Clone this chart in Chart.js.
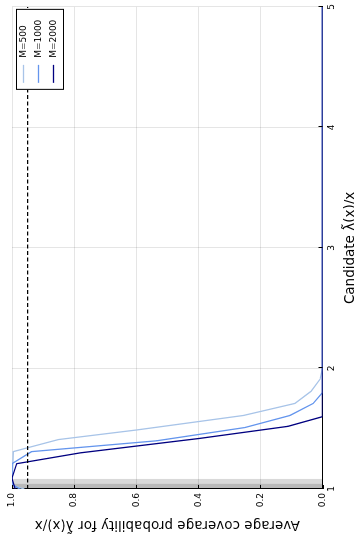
<!DOCTYPE html>
<html>
<head>
<meta charset="utf-8">
<script src="https://cdn.jsdelivr.net/npm/chart.js@4.4.1/dist/chart.umd.min.js"></script>
<style>
  html, body { margin: 0; padding: 0; background: #fff; overflow: hidden; }
  /* the plot is laid out landscape and turned a quarter to the left */
  #wrap {
    position: absolute; left: 0; top: 0;
    width: 541px; height: 354px;
    transform-origin: 0 0;
    transform: translate(0, 541px) rotate(-90deg);
  }
</style>
</head>
<body>
<div id="wrap"><canvas id="cov" width="541" height="354"></canvas></div>
<script>
const seriesNames = ['M=500', 'M=1000', 'M=2000'];
const seriesColors = ['#a8c4e8', '#6495ed', '#000080'];

// candidate ratio and average coverage, one pair of arrays per M
const lambda500 = [1.0, 1.03, 1.31, 1.34, 1.41, 1.49, 1.61, 1.71, 1.81, 1.91, 2.0, 5.0];
const cover500  = [0.96, 1.0, 0.996, 0.953, 0.851, 0.598, 0.255, 0.089, 0.037, 0.008, 0.0, 0.0];
const lambda1000 = [1.0, 1.04, 1.21, 1.31, 1.40, 1.51, 1.61, 1.71, 1.80, 5.0];
const cover1000  = [0.975, 1.0, 1.0, 0.937, 0.534, 0.25, 0.105, 0.03, 0.0, 0.0];
const lambda2000 = [1.0, 1.09, 1.21, 1.30, 1.42, 1.52, 1.60, 5.0];
const cover2000  = [0.99, 1.0, 0.985, 0.78, 0.395, 0.111, 0.0, 0.0];

const nominal = 0.95;                 // target coverage, dashed
const bandEnds = [1.085, 1.045];      // shaded strips starting at 1
const xTicks = [1, 2, 3, 4, 5];
const yTicks = [0, 0.2, 0.4, 0.6, 0.8, 1.0];

const lambdas = [lambda500, lambda1000, lambda2000];
const covers = [cover500, cover1000, cover2000];

const font = 'DejaVu Sans';
const pts = (xs, ys) => xs.map((v, i) => ({ x: v, y: ys[i] }));

const datasets = [];
bandEnds.forEach(end => {
  datasets.push({
    data: [{ x: 1, y: 1 }, { x: end, y: 1 }],
    borderWidth: 0,
    pointRadius: 0,
    backgroundColor: 'rgba(0,0,0,0.15)',
    fill: 'origin',
    order: 10
  });
});
seriesNames.forEach((name, i) => {
  datasets.push({
    label: name,
    data: pts(lambdas[i], covers[i]),
    borderColor: seriesColors[i],
    borderWidth: 1.3,
    pointRadius: 0,
    fill: false,
    order: 3 - i
  });
});
datasets.push({
  data: [{ x: 1, y: nominal }, { x: 5, y: nominal }],
  borderColor: '#000',
  borderWidth: 1.2,
  borderDash: [4, 2.5],
  pointRadius: 0,
  fill: false,
  order: 0
});

// inward tick marks and the boxed legend
const decor = {
  id: 'decor',
  afterDatasetsDraw(chart) {
    const { ctx, chartArea: a, scales: { x, y } } = chart;
    ctx.save();
    ctx.strokeStyle = '#000';
    ctx.lineWidth = 1;
    ctx.beginPath();
    xTicks.forEach(v => {
      const px = Math.round(x.getPixelForValue(v)) + 0.5;
      ctx.moveTo(px, a.bottom); ctx.lineTo(px, a.bottom - 4);
    });
    yTicks.forEach(v => {
      const py = Math.round(y.getPixelForValue(v)) + 0.5;
      ctx.moveTo(a.left, py); ctx.lineTo(a.left + 4, py);
    });
    ctx.stroke();

    const bx = a.right - 83, by = a.top + 4, bw = 80, bh = 47;
    ctx.fillStyle = '#fff';
    ctx.fillRect(bx, by, bw, bh);
    ctx.strokeRect(bx + 0.5, by + 0.5, bw, bh);
    ctx.font = '9px "' + font + '"';
    ctx.textBaseline = 'middle';
    ctx.fillStyle = '#000';
    seriesNames.forEach((name, i) => {
      const ly = by + 7.5 + i * 15;
      ctx.strokeStyle = seriesColors[i];
      ctx.lineWidth = 1.3;
      ctx.beginPath();
      ctx.moveTo(bx + 7, ly); ctx.lineTo(bx + 25, ly);
      ctx.stroke();
      ctx.fillText(name, bx + 32, ly);
    });
    ctx.restore();
  }
};

new Chart(document.getElementById('cov'), {
  type: 'line',
  data: { datasets: datasets },
  plugins: [decor],
  options: {
    responsive: false,
    animation: false,
    layout: { padding: { top: 12, right: 4, left: 0, bottom: 0 } },
    plugins: { legend: { display: false }, tooltip: { enabled: false } },
    scales: {
      x: {
        type: 'linear',
        min: 1, max: 5,
        afterFit: s => { s.height = 31.5; },
        afterBuildTicks: s => { s.ticks = xTicks.map(v => ({ value: v })); },
        ticks: { padding: 4, color: '#000', font: { family: font, size: 9 } },
        grid: { color: 'rgba(0,0,0,0.1)', drawTicks: false },
        border: { display: true, color: '#000', width: 1 },
        title: {
          display: true,
          text: 'Candidate λ̃(x)/x',
          color: '#000',
          font: { family: font, size: 13.5 },
          padding: { top: 0, bottom: -5 }
        }
      },
      y: {
        type: 'linear',
        min: 0, max: 1,
        afterFit: s => { s.width = 52; },
        afterBuildTicks: s => { s.ticks = yTicks.map(v => ({ value: v })); },
        ticks: {
          padding: 4, color: '#000', font: { family: font, size: 9 },
          callback: v => v.toFixed(1)
        },
        grid: { color: 'rgba(0,0,0,0.1)', drawTicks: false },
        border: { display: true, color: '#000', width: 1 },
        title: {
          display: true,
          text: 'Average coverage probability for λ̃(x)/x',
          color: '#000',
          font: { family: font, size: 13.5 },
          padding: { top: 8.5, bottom: 0 }
        }
      }
    }
  }
});
</script>
</body>
</html>
